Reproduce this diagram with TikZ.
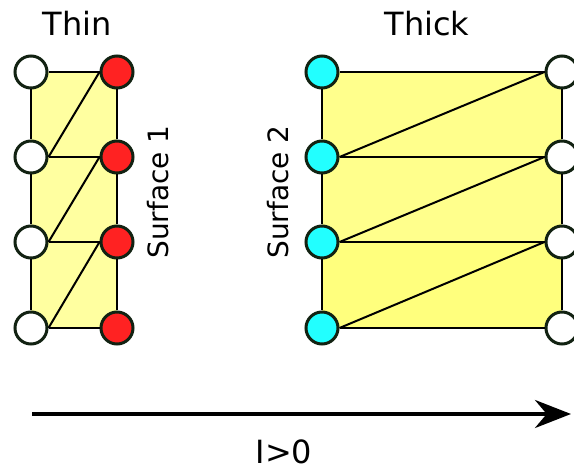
\documentclass[tikz,border=0pt]{standalone}
\usepackage{fontspec}
\setmainfont{DejaVu Sans}
\usetikzlibrary{arrows.meta,backgrounds}
\definecolor{rim}{RGB}{18,34,18}
\definecolor{thinfill}{RGB}{255,255,160}
\definecolor{thickfill}{RGB}{255,255,140}
\definecolor{thicklow}{RGB}{255,255,125}
\definecolor{redsite}{RGB}{255,34,34}
\definecolor{cyansite}{RGB}{34,255,255}

\begin{document}
\begin{tikzpicture}[x=1pt,y=-1pt,
      >={Stealth[length=36pt,width=28pt]},
      every node/.style={font=\fontsize{32}{38}\selectfont},
      site/.style={draw=rim,line width=3pt,circle,minimum size=32pt,inner sep=0pt},
      wsite/.style={site,fill=white},
      rsite/.style={site,fill=redsite},
      csite/.style={site,fill=cyansite},
      edge/.style={draw=black,line width=2pt},
      side/.style={rotate=90,font=\fontsize{28}{34}\selectfont}
    ]
    \useasboundingbox (0,0) rectangle (574,473);
    % sites, row by row
    \foreach \r/\y in {1/72,2/157,3/242,4/328}{
      \node[wsite] (tw\r) at (31,\y) {};
      \node[rsite] (tr\r) at (117,\y) {};
      \node[csite] (kc\r) at (322,\y) {};
      \node[wsite] (kw\r) at (562,\y) {};
    }
    % yellow slabs
    \begin{scope}[on background layer]
      \fill[thinfill] (tw1.center) rectangle (tr4.center);
      \fill[thickfill] (kc1.center) rectangle (kw3.center);
      \fill[thicklow] (kc3.center) rectangle (kw4.center);
    \end{scope}
    % bonds
    \foreach \r in {1,...,4}{
      \draw[edge] (tw\r) -- (tr\r);
      \draw[edge] (kc\r) -- (kw\r);
    }
    \foreach \r/\s in {1/2,2/3,3/4}{
      \draw[edge] (tw\r) -- (tw\s);
      \draw[edge] (tr\r) -- (tr\s);
      \draw[edge] (kc\r) -- (kc\s);
      \draw[edge] (kw\r) -- (kw\s);
      \draw[edge] (tw\s.east) -- (tr\r.west);
      \draw[edge] (kc\s.east) -- (kw\r.west);
    }
    % captions
    \node[anchor=base] (thin) at (77,36) {Thin};
    \node[anchor=base] (thick) at (427,36) {Thick};
    \node[side] (surf1) at (158,192) {Surface 1};
    \node[side] (surf2) at (278,192) {Surface 2};
    % current direction
    \coordinate (arrS) at (32,414);
    \coordinate (arrE) at (571,414);
    \draw[->,line width=4pt] (arrS) -- (arrE);
    \node[anchor=base] (cur) at (284,464) {I>0};
  \end{tikzpicture}
\end{document}
